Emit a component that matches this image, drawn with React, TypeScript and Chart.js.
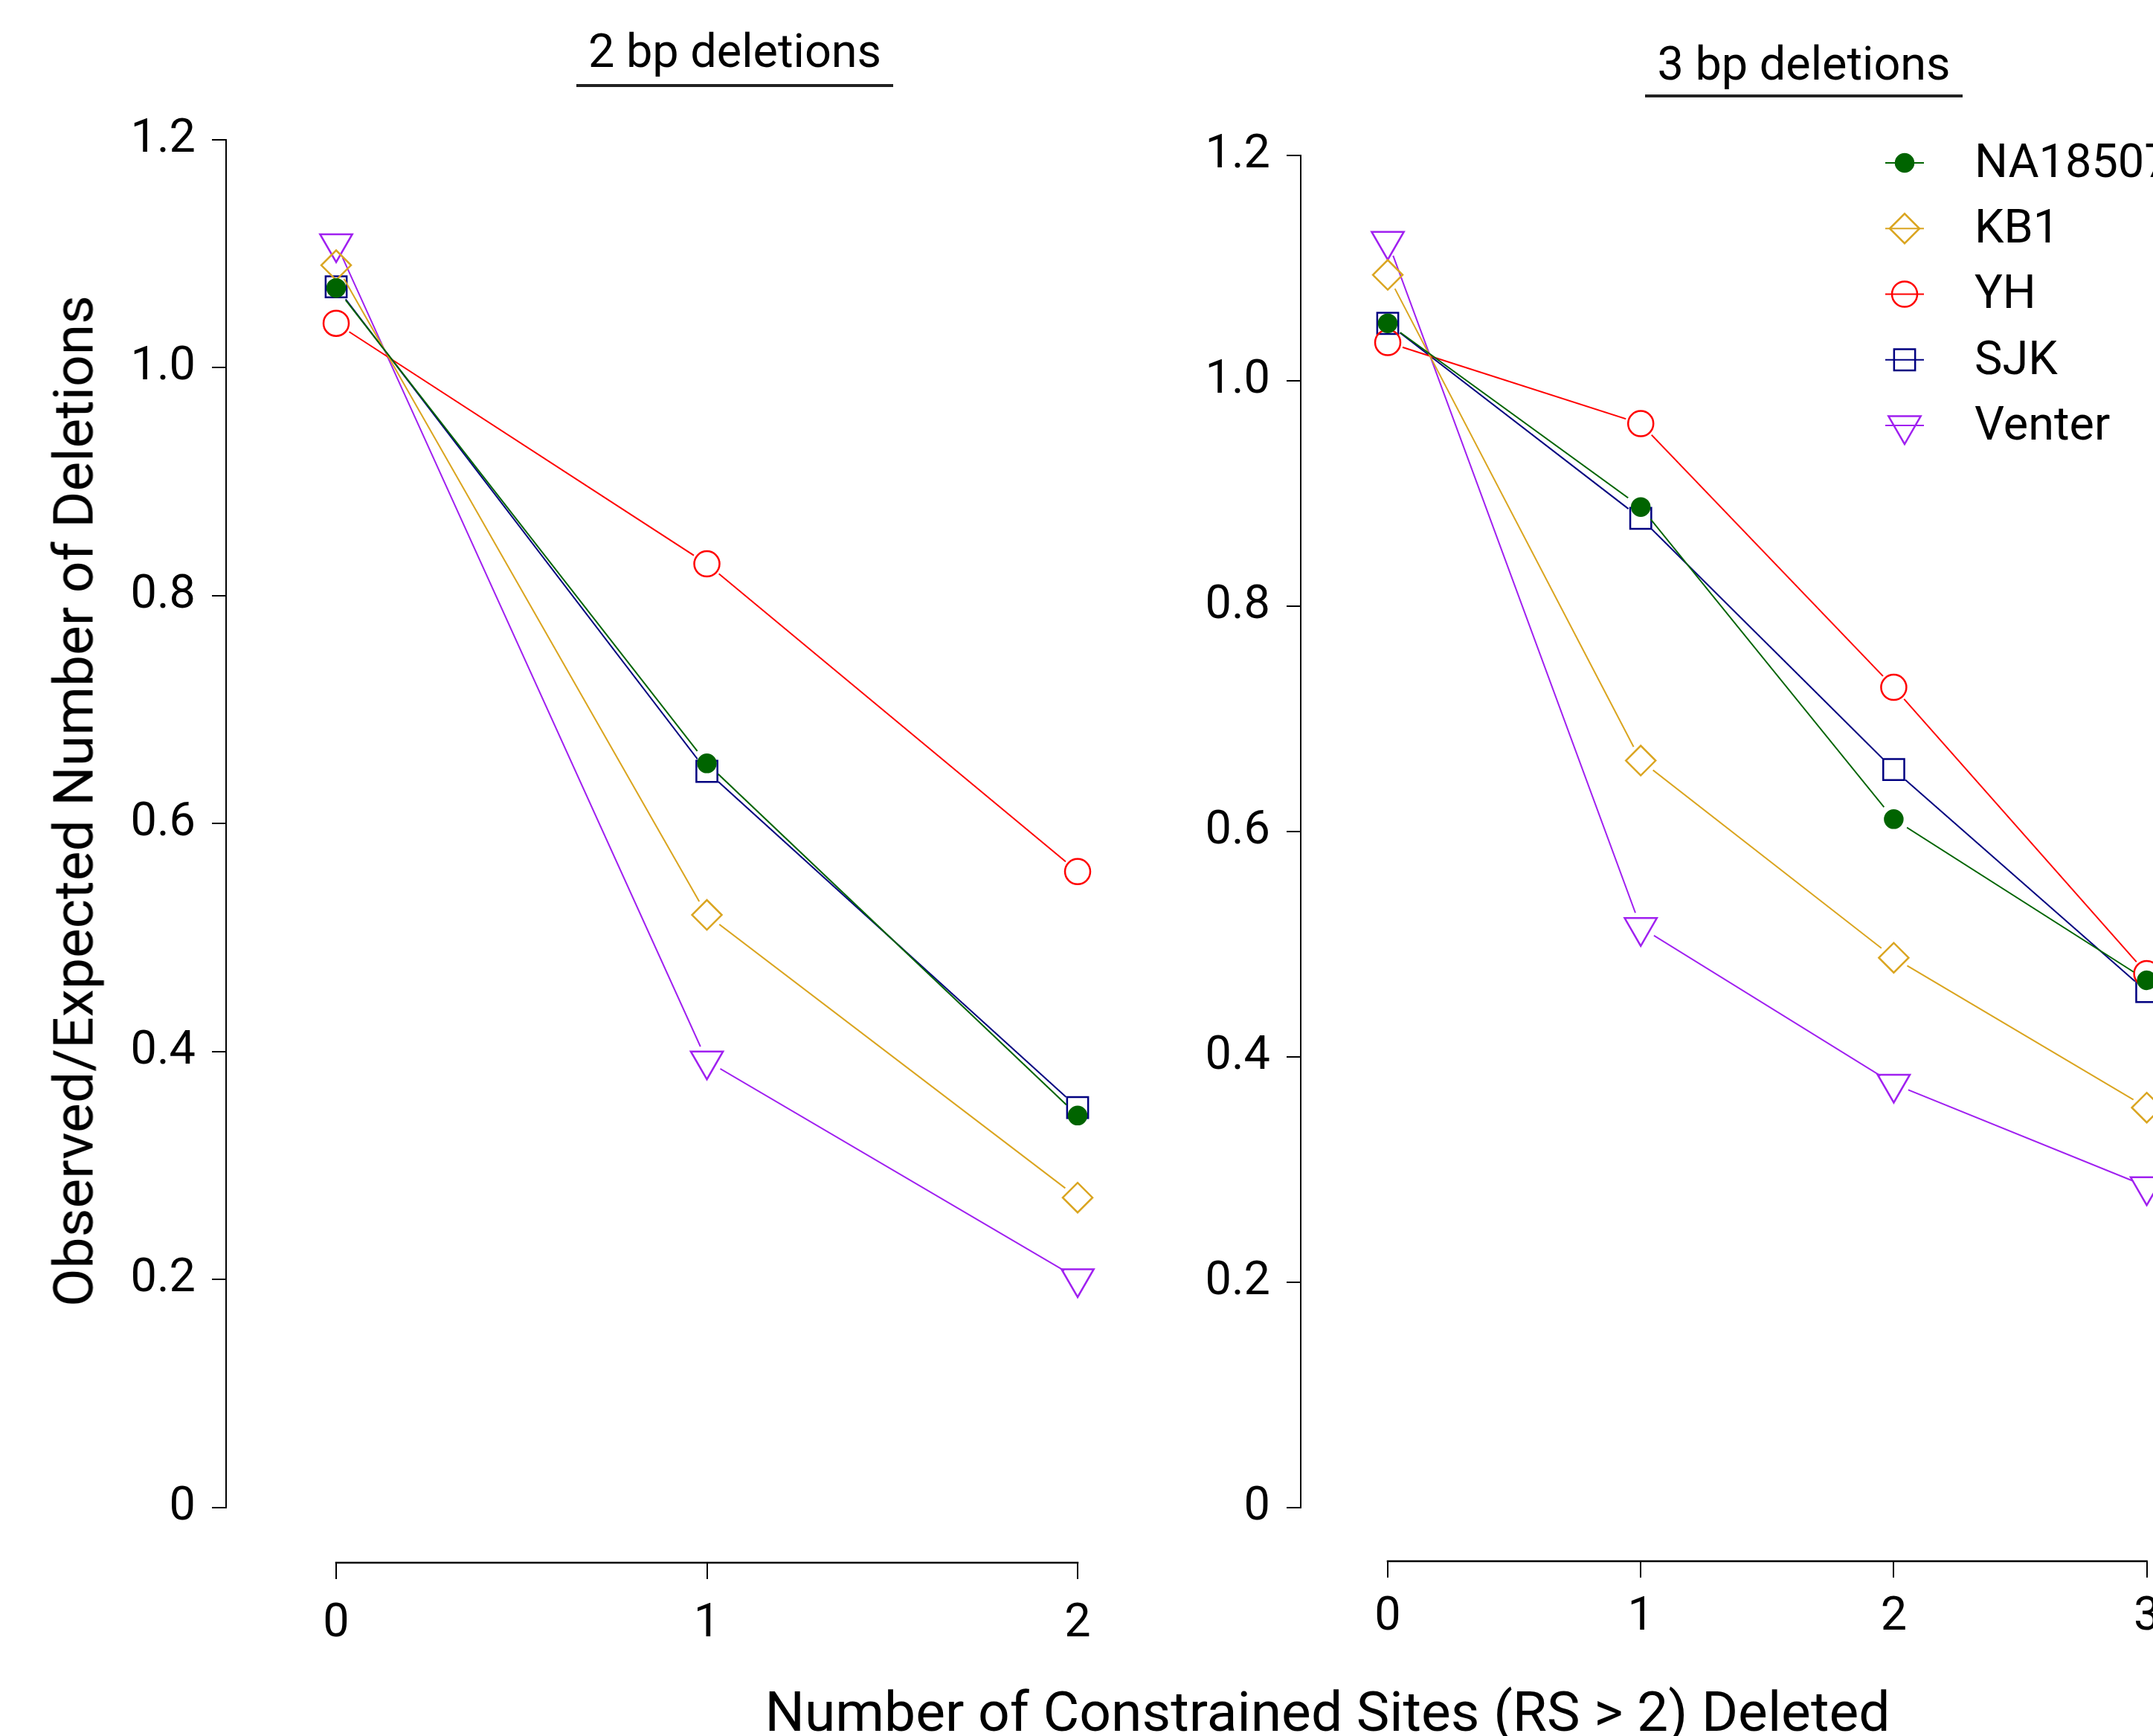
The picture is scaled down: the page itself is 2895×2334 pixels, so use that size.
import React, { useEffect, useRef } from 'react';
import { Chart, registerables } from 'chart.js';
import { drawPoint } from 'chart.js/helpers';

Chart.register(...registerables);

const FONT = "Roboto, 'Noto Sans', sans-serif";

// Series definitions
const seriesNames = ['NA18507', 'KB1', 'YH', 'SJK', 'Venter'];
const seriesColors = ['#006400', '#DAA520', '#FF0000', '#000080', '#A020F0'];
const seriesStyles = ['circle', 'rectRot', 'circle', 'rect', 'triangle'];
const seriesRadius = [12, 20, 17, 20, 25];
const seriesRotation = [0, 0, 0, 0, 180];
const seriesFilled = [true, false, false, false, false];

// 2 bp deletions panel
const xValues2bp = [0, 1, 2];
const na18507_2bp = [1.07, 0.653, 0.344];
const kb1_2bp = [1.09, 0.52, 0.272];
const yh_2bp = [1.039, 0.828, 0.558];
const sjk_2bp = [1.071, 0.646, 0.351];
const venter_2bp = [1.109, 0.392, 0.201];

// 3 bp deletions panel
const xValues3bp = [0, 1, 2, 3];
const na18507_3bp = [1.051, 0.888, 0.611, 0.468];
const kb1_3bp = [1.094, 0.663, 0.488, 0.355];
const yh_3bp = [1.034, 0.962, 0.728, 0.474];
const sjk_3bp = [1.051, 0.878, 0.655, 0.458];
const venter_3bp = [1.124, 0.515, 0.376, 0.285];

const yTickValues = [0, 0.2, 0.4, 0.6, 0.8, 1.0, 1.2];

const title2bp = '2 bp deletions';
const title3bp = '3 bp deletions';
const xAxisTitle = 'Number of Constrained Sites (RS > 2) Deleted';
const yAxisTitle = 'Observed/Expected Number of Deletions';

const GAP = 21;

const gapLinePlugin = {
  id: 'gapLines',
  beforeDatasetDraw(chart: any, args: any) {
    const { ctx } = chart;
    const meta = args.meta;
    ctx.save();
    ctx.beginPath();
    ctx.rect(0, 0, chart.width, chart.height);
    meta.data.forEach((pt: any) => {
      ctx.moveTo(pt.x + GAP, pt.y);
      ctx.arc(pt.x, pt.y, GAP, 0, Math.PI * 2, true);
    });
    ctx.clip('evenodd');
    meta.dataset.draw(ctx, chart.chartArea);
    ctx.restore();
    meta.data.forEach((pt: any) => pt.draw(ctx));
    return false;
  },
};

const axisLinePlugin = {
  id: 'rAxes',
  beforeDatasetsDraw(chart: any) {
    const { ctx, chartArea, scales } = chart;
    const xs = scales.x;
    const ys = scales.y;
    const xt = xs.ticks;
    const yt = ys.ticks;
    ctx.save();
    ctx.strokeStyle = '#000';
    ctx.lineCap = 'square';
    ctx.lineWidth = 2;
    ctx.beginPath();
    ctx.moveTo(chartArea.left - 1, ys.getPixelForValue(yt[0].value));
    ctx.lineTo(chartArea.left - 1, ys.getPixelForValue(yt[yt.length - 1].value));
    ctx.stroke();
    ctx.lineWidth = 2.5;
    ctx.beginPath();
    ctx.moveTo(xs.getPixelForValue(xt[0].value), chartArea.bottom);
    ctx.lineTo(xs.getPixelForValue(xt[xt.length - 1].value), chartArea.bottom);
    ctx.stroke();
    ctx.restore();
  },
};

const legendPlugin = {
  id: 'rLegend',
  afterDraw(chart: any, _args: any, opts: any) {
    const { ctx } = chart;
    chart.data.datasets.forEach((ds: any, k: number) => {
      const y = opts.top + k * opts.rowGap;
      ctx.save();
      ctx.strokeStyle = ds.borderColor;
      ctx.lineWidth = 2;
      ctx.beginPath();
      ctx.moveTo(opts.x - opts.lineHalf, y);
      ctx.lineTo(opts.x + opts.lineHalf, y);
      ctx.stroke();
      ctx.fillStyle = ds.pointBackgroundColor;
      ctx.strokeStyle = ds.pointBorderColor;
      ctx.lineWidth = ds.pointBorderWidth;
      drawPoint(
        ctx,
        {
          pointStyle: ds.pointStyle,
          radius: ds.pointRadius,
          rotation: ds.pointRotation,
          borderWidth: ds.pointBorderWidth,
        } as any,
        opts.x,
        y
      );
      ctx.fillStyle = '#000';
      ctx.font = `63px ${FONT}`;
      ctx.textBaseline = 'middle';
      ctx.textAlign = 'left';
      ctx.fillText(ds.label, opts.textX, y + 3);
      ctx.restore();
    });
  },
};

function makeConfig(xs: number[], series: number[][], p: any, withLegend: boolean): any {
  return {
    type: 'line',
    data: {
      datasets: series.map((vals, k) => ({
        label: seriesNames[k],
        data: xs.map((x, i) => ({ x, y: vals[i] })),
        borderColor: seriesColors[k],
        borderWidth: 2,
        pointStyle: seriesStyles[k],
        pointRadius: seriesRadius[k],
        pointRotation: seriesRotation[k],
        pointBorderColor: seriesColors[k],
        pointBackgroundColor: seriesFilled[k] ? seriesColors[k] : 'rgba(0,0,0,0)',
        pointBorderWidth: 2.5,
        tension: 0,
        clip: false,
        fill: false,
      })),
    },
    options: {
      animation: false,
      responsive: false,
      events: [],
      layout: { autoPadding: false, padding: { top: p.top, right: 0, bottom: 0, left: 0 } },
      plugins: {
        legend: { display: false },
        tooltip: { enabled: false },
        title: { display: false },
        rLegend: p.legend,
      },
      scales: {
        x: {
          type: 'linear',
          min: p.xMin,
          max: p.xMax,
          afterBuildTicks: (s: any) => {
            s.ticks = xs.map((v) => ({ value: v }));
          },
          afterFit: (s: any) => {
            s.height = p.xAxisHeight;
            s.paddingLeft = 0;
            s.paddingRight = 0;
            s.paddingTop = 0;
            s.paddingBottom = 0;
          },
          grid: { display: true, drawOnChartArea: false, drawTicks: true, tickLength: 22, color: '#000', lineWidth: 2 },
          border: { display: false },
          ticks: {
            padding: p.xPad,
            color: '#000',
            font: { family: FONT, size: 63 },
            autoSkip: false,
            maxRotation: 0,
            callback: (v: any) => String(v),
          },
        },
        y: {
          type: 'linear',
          min: p.yMin,
          max: 1.2,
          afterBuildTicks: (s: any) => {
            s.ticks = yTickValues.map((v) => ({ value: v }));
          },
          afterFit: (s: any) => {
            s.width = p.yAxisWidth;
            s.paddingLeft = 0;
            s.paddingRight = 0;
            s.paddingTop = 0;
            s.paddingBottom = 0;
          },
          grid: { display: true, drawOnChartArea: false, drawTicks: true, tickLength: 20, color: '#000', lineWidth: 2 },
          border: { display: false },
          ticks: {
            padding: p.yPad,
            color: '#000',
            font: { family: FONT, size: 63 },
            autoSkip: false,
            callback: (v: any) => (v === 0 ? '0' : Number(v).toFixed(1)),
          },
        },
      },
    },
    plugins: withLegend ? [axisLinePlugin, gapLinePlugin, legendPlugin] : [axisLinePlugin, gapLinePlugin],
  };
}

export default function App() {
  const leftRef = useRef<HTMLCanvasElement | null>(null);
  const rightRef = useRef<HTMLCanvasElement | null>(null);

  useEffect(() => {
    const left = new Chart(
      leftRef.current as HTMLCanvasElement,
      makeConfig(
        xValues2bp,
        [na18507_2bp, kb1_2bp, yh_2bp, sjk_2bp, venter_2bp],
        { top: 188, xMin: -0.2949, xMax: 2.3029, yMin: -0.0483, xAxisHeight: 233, yAxisWidth: 305, xPad: 23, yPad: 22 },
        false
      )
    );
    const right = new Chart(
      rightRef.current as HTMLCanvasElement,
      makeConfig(
        xValues3bp,
        [na18507_3bp, kb1_3bp, yh_3bp, sjk_3bp, venter_3bp],
        {
          top: 209,
          xMin: -0.341,
          xMax: 3.0247,
          yMin: -0.0475,
          xAxisHeight: 235,
          yAxisWidth: 150,
          xPad: 16,
          yPad: 22,
          legend: { x: 961, top: 219, rowGap: 88.25, textX: 1055, lineHalf: 26 },
        },
        true
      )
    );
    return () => {
      left.destroy();
      right.destroy();
    };
  }, []);

  const titleStyle: React.CSSProperties = {
    position: 'absolute',
    fontSize: 63,
    lineHeight: '70px',
    textAlign: 'center',
    whiteSpace: 'nowrap',
    borderBottom: '4px solid #222',
    color: '#000',
  };

  return (
    <div
      style={{
        position: 'absolute',
        left: 0,
        top: 0,
        width: 2895,
        height: 2334,
        overflow: 'hidden',
        background: '#fff',
        fontFamily: FONT,
      }}
    >
      <canvas ref={leftRef} width={1600} height={2334} style={{ position: 'absolute', left: 0, top: 0, width: 1600, height: 2334 }} />
      <canvas ref={rightRef} width={1295} height={2334} style={{ position: 'absolute', left: 1600, top: 0, width: 1295, height: 2334 }} />
      <div style={{ ...titleStyle, left: 775, top: 33.5, width: 426, paddingBottom: 9.5 }}>{title2bp}</div>
      <div style={{ ...titleStyle, left: 2212, top: 50.5, width: 427, paddingBottom: 6.5 }}>{title3bp}</div>
      <div
        style={{
          position: 'absolute',
          left: 99,
          top: 1077,
          transform: 'translate(-50%, -50%) rotate(-90deg)',
          fontSize: 75,
          lineHeight: '75px',
          whiteSpace: 'nowrap',
          color: '#000',
        }}
      >
        {yAxisTitle}
      </div>
      <div
        style={{
          position: 'absolute',
          left: 1785,
          top: 2264,
          transform: 'translateX(-50%)',
          fontSize: 75,
          lineHeight: '75px',
          whiteSpace: 'nowrap',
          color: '#000',
        }}
      >
        {xAxisTitle}
      </div>
    </div>
  );
}
